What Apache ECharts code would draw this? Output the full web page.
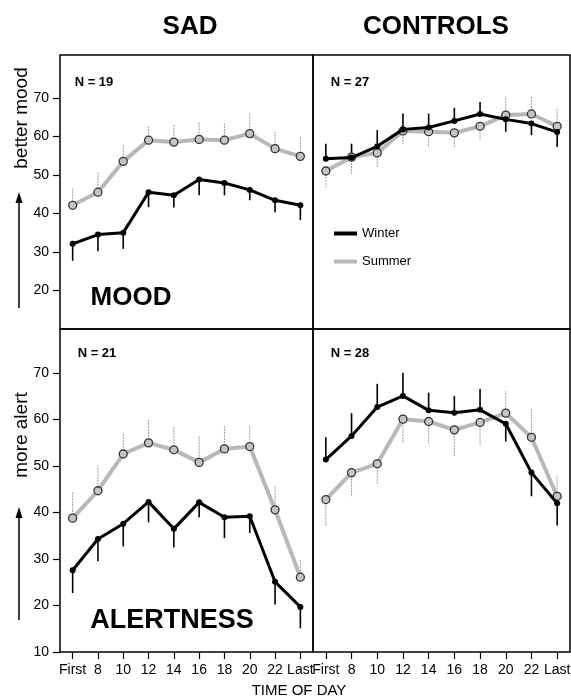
<!DOCTYPE html>
<html>
<head>
<meta charset="utf-8">
<script src="https://cdn.jsdelivr.net/npm/echarts@6/dist/echarts.min.js"></script>
<style>
  html, body { margin: 0; padding: 0; background: #fff; }
  #container { width: 571px; height: 698px; }
</style>
</head>
<body>
<div id="container"></div>
<script>
// time of day categories
var times = ['First', '8', '10', '12', '14', '16', '18', '20', '22', 'Last'];
var topTicks = [20, 30, 40, 50, 60, 70];
var bottomTicks = [10, 20, 30, 40, 50, 60, 70];

// SAD - mood
var sadMoodWinter = [32.1, 34.5, 35.0, 45.5, 44.7, 48.8, 47.9, 46.1, 43.4, 42.1];
var sadMoodWinterBar = [27.7, 30.2, 30.8, 41.6, 41.5, 44.7, 44.7, 43.4, 40.3, 38.3];
var sadMoodSummer = [42.1, 45.5, 53.5, 59.0, 58.5, 59.2, 59.0, 60.7, 56.8, 54.8];
var sadMoodSummerBar = [46.4, 50.7, 57.7, 62.5, 62.9, 63.8, 63.3, 65.9, 61.4, 59.8];

// controls - mood
var ctlMoodWinter = [54.2, 54.5, 57.4, 61.8, 62.3, 64.0, 65.8, 64.4, 63.3, 61.1];
var ctlMoodWinterBar = [58.1, 58.1, 61.6, 65.9, 65.9, 67.4, 68.9, 61.2, 60.3, 57.2];
var ctlMoodSummer = [51.0, 54.6, 55.7, 61.4, 61.2, 60.9, 62.6, 65.5, 65.8, 62.6];
var ctlMoodSummerBar = [46.8, 50.3, 51.9, 58.0, 57.1, 57.1, 58.8, 70.3, 70.4, 67.2];

// SAD - alertness
var sadAlertWinter = [27.6, 34.3, 37.6, 42.3, 36.5, 42.2, 39.0, 39.2, 25.1, 19.7];
var sadAlertWinterBar = [22.7, 29.5, 32.7, 37.9, 32.5, 39.0, 34.5, 35.6, 20.2, 15.1];
var sadAlertSummer = [38.8, 44.7, 52.6, 55.0, 53.5, 50.8, 53.7, 54.2, 40.6, 26.1];
var sadAlertSummerBar = [44.4, 50.1, 57.2, 60.0, 58.5, 56.5, 58.8, 58.8, 45.8, 29.9];

// controls - alertness
var ctlAlertWinter = [51.4, 56.5, 62.7, 65.1, 62.0, 61.5, 62.1, 59.1, 48.6, 42.0];
var ctlAlertWinterBar = [56.2, 61.4, 67.7, 70.1, 65.8, 65.1, 66.6, 55.3, 43.5, 37.2];
var ctlAlertSummer = [42.8, 48.6, 50.5, 60.1, 59.6, 57.8, 59.4, 61.4, 56.2, 43.5];
var ctlAlertSummerBar = [37.2, 43.4, 46.2, 55.1, 54.8, 52.0, 54.4, 66.1, 62.3, 48.1];

var FONT = "'Liberation Sans', Arial, Helvetica, sans-serif";

function errBars(idx, name, mean, ends, color, width, dash) {
    return {
        type: 'custom',
        name: name,
        xAxisIndex: idx,
        yAxisIndex: idx,
        z: 1,
        silent: true,
        data: mean.map(function (v, i) { return [i, v, ends[i]]; }),
        renderItem: function (params, api) {
            var p0 = api.coord([api.value(0), api.value(1)]);
            var p1 = api.coord([api.value(0), api.value(2)]);
            return {
                type: 'line',
                shape: { x1: p0[0], y1: p0[1], x2: p1[0], y2: p1[1] },
                style: { stroke: color, lineWidth: width, lineDash: dash }
            };
        }
    };
}

function panel(idx, winter, winterBar, summer, summerBar) {
    return [
        errBars(idx, 'summerErr', summer, summerBar, '#9a9a9a', 1, [2, 1]),
        {
            type: 'line', name: 'Summer', xAxisIndex: idx, yAxisIndex: idx, z: 2,
            data: summer, symbol: 'circle', symbolSize: 8,
            lineStyle: { color: '#b8b8b8', width: 4 },
            itemStyle: { color: '#c4c4c4', borderColor: '#333', borderWidth: 1.3 }
        },
        errBars(idx, 'winterErr', winter, winterBar, '#000', 1.6, null),
        {
            type: 'line', name: 'Winter', xAxisIndex: idx, yAxisIndex: idx, z: 3,
            data: winter, symbol: 'circle', symbolSize: 6,
            lineStyle: { color: '#000', width: 3 },
            itemStyle: { color: '#000' }
        }
    ];
}

function xAxis(idx, showLabels) {
    return {
        type: 'category', gridIndex: idx, data: times, boundaryGap: true,
        axisLine: { show: false },
        axisTick: { show: showLabels, alignWithLabel: true, length: 7, lineStyle: { color: '#000', width: 1.2 } },
        axisLabel: { show: showLabels, interval: 0, color: '#000', fontSize: 14, fontFamily: FONT, margin: 11 },
        splitLine: { show: false }
    };
}

function yAxis(idx, max, ticks, showLabels) {
    return {
        type: 'value', gridIndex: idx, min: 10, max: max, interval: 10,
        axisLine: { show: false },
        axisTick: { show: showLabels, length: 7, customValues: ticks, lineStyle: { color: '#000', width: 1.2 } },
        axisLabel: { show: showLabels, customValues: ticks, color: '#000', fontSize: 14, fontFamily: FONT, margin: 11 },
        splitLine: { show: false }
    };
}

function txt(text, x, y, size, bold, rot) {
    return {
        type: 'text', x: x, y: y, rotation: rot || 0, z: 10,
        style: {
            text: text, fill: '#000', align: 'center', verticalAlign: 'middle',
            font: (bold ? 'bold ' : '') + size + 'px ' + FONT
        }
    };
}

function arrow(x, yTip, yEnd) {
    return [
        { type: 'line', z: 10, shape: { x1: x, y1: yTip + 8, x2: x, y2: yEnd }, style: { stroke: '#000', lineWidth: 1.5 } },
        { type: 'polygon', z: 10, shape: { points: [[x, yTip], [x - 3.5, yTip + 11], [x + 3.5, yTip + 11]] }, style: { fill: '#000' } }
    ];
}

var gridStyle = { show: true, borderColor: '#000', borderWidth: 1.5, backgroundColor: 'transparent', outerBoundsMode: 'none', containLabel: false };

var option = {
    backgroundColor: '#fff',
    animation: false,
    grid: [
        Object.assign({ left: 60, top: 55, width: 253, height: 274 }, gridStyle),
        Object.assign({ left: 313, top: 55, width: 257, height: 274 }, gridStyle),
        Object.assign({ left: 60, top: 329, width: 253, height: 323 }, gridStyle),
        Object.assign({ left: 313, top: 329, width: 257, height: 323 }, gridStyle)
    ],
    xAxis: [xAxis(0, false), xAxis(1, false), xAxis(2, true), xAxis(3, true)],
    yAxis: [
        yAxis(0, 81.1, topTicks, true),
        yAxis(1, 81.1, topTicks, false),
        yAxis(2, 79.5, bottomTicks, true),
        yAxis(3, 79.5, bottomTicks, false)
    ],
    legend: {
        orient: 'vertical', left: 329, top: 222, itemGap: 15,
        itemWidth: 23, itemHeight: 4, icon: 'rect',
        textStyle: { color: '#000', fontSize: 13, fontFamily: FONT },
        data: [
            { name: 'Winter', itemStyle: { color: '#000', borderWidth: 0 } },
            { name: 'Summer', itemStyle: { color: '#b8b8b8', borderWidth: 0 } }
        ],
        selectedMode: false
    },
    graphic: [
        txt('SAD', 190, 27, 26, true),
        txt('CONTROLS', 436, 27, 26, true),
        txt('N = 19', 94, 82, 13, true),
        txt('N = 27', 350, 82, 13, true),
        txt('N = 21', 97, 353, 13, true),
        txt('N = 28', 350, 353, 13, true),
        txt('MOOD', 131, 298, 26, true),
        txt('ALERTNESS', 172, 621, 27, true),
        txt('better mood', 22, 118, 19, false, Math.PI / 2),
        txt('more alert', 22, 435, 19, false, Math.PI / 2),
        txt('TIME OF DAY', 299, 691, 15, false)
    ].concat(arrow(19, 192, 308), arrow(19, 507, 620)),
    series: [].concat(
        panel(0, sadMoodWinter, sadMoodWinterBar, sadMoodSummer, sadMoodSummerBar),
        panel(1, ctlMoodWinter, ctlMoodWinterBar, ctlMoodSummer, ctlMoodSummerBar),
        panel(2, sadAlertWinter, sadAlertWinterBar, sadAlertSummer, sadAlertSummerBar),
        panel(3, ctlAlertWinter, ctlAlertWinterBar, ctlAlertSummer, ctlAlertSummerBar)
    )
};

var chart = echarts.init(document.getElementById('container'));
chart.setOption(option);
</script>
</body>
</html>
